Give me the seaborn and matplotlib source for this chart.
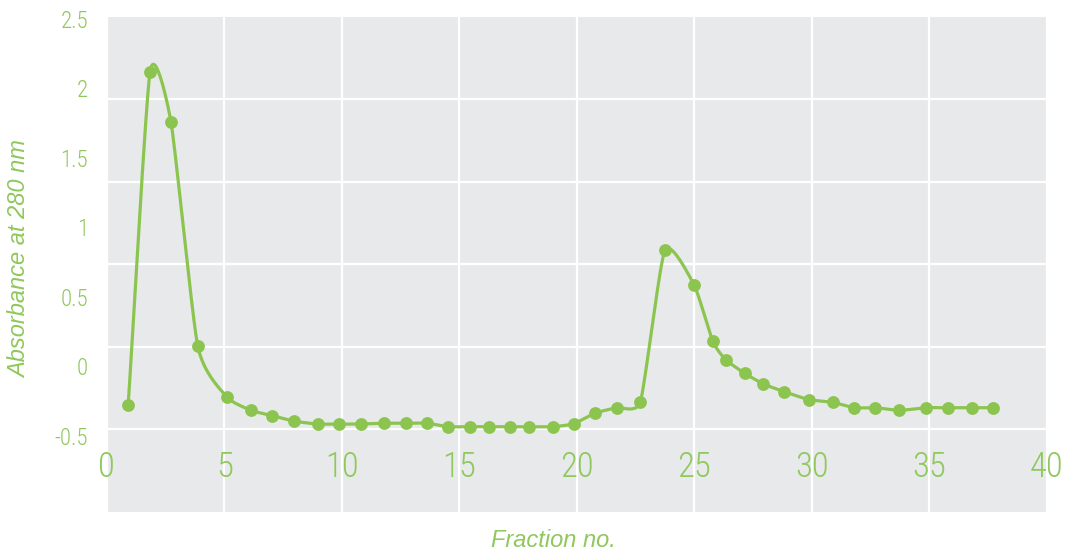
import numpy as np
import matplotlib
matplotlib.use("Agg")
import matplotlib.pyplot as plt
import seaborn as sns

# Elution profile: absorbance of each collected fraction
fraction = [0.91, 1.84, 2.73, 3.87, 5.10, 6.15, 7.04, 7.95, 8.97, 9.88,
            10.80, 11.81, 12.72, 13.63, 14.53, 15.46, 16.25, 17.16, 17.95, 18.97,
            19.87, 20.79, 21.69, 22.70, 23.75, 24.99, 25.78, 26.34, 27.14, 27.94,
            28.83, 29.88, 30.89, 31.81, 32.70, 33.72, 34.86, 35.78, 36.80, 37.70]
absorbance = [0.145, 2.164, 1.861, 0.503, 0.196, 0.113, 0.081, 0.048, 0.030, 0.030,
              0.030, 0.035, 0.035, 0.035, 0.014, 0.014, 0.014, 0.014, 0.014, 0.014,
              0.032, 0.097, 0.129, 0.162, 1.083, 0.873, 0.533, 0.420, 0.338, 0.273,
              0.226, 0.178, 0.162, 0.129, 0.129, 0.113, 0.129, 0.129, 0.129, 0.129]

x_ticks = [0, 5, 10, 15, 20, 25, 30, 35, 40]
y_tick_values = [2.5, 2.0, 1.5, 1.0, 0.5, 0.0, -0.5]
y_tick_labels = ["2.5", "2", "1.5", "1", "0.5", "0", "-0.5"]
y_grid = [0.0, 0.5, 1.0, 1.5, 2.0]

GREEN = "#8CC450"
TEXT_GREEN = "#8FC85C"
PANEL = "#E8E9EB"
NUM_FONT = ["Roboto Condensed", "IBM Plex Sans Condensed", "DejaVu Sans"]
TITLE_FONT = ["Liberation Sans", "DejaVu Sans"]


def smooth_display(ax, x, y, k=0.1, clamp=0.5, n=30):
    """Bezier smoothing through every point, computed in display space."""
    pts = ax.transData.transform(np.column_stack([x, y]))
    ext = np.vstack([2 * pts[0] - pts[1], pts, 2 * pts[-1] - pts[-2]])
    t = np.linspace(0, 1, n)[:, None]
    out = []
    for i in range(1, len(ext) - 2):
        p0, p1, p2, p3 = ext[i - 1], ext[i], ext[i + 1], ext[i + 2]
        seg_len = np.linalg.norm(p2 - p1)
        h1 = (p2 - p0) * k
        h2 = (p3 - p1) * k
        for h in (h1, h2):
            ln = np.linalg.norm(h)
            if ln > clamp * seg_len:
                h *= clamp * seg_len / ln
        c1 = p1 + h1
        c2 = p2 - h2
        seg = ((1 - t) ** 3) * p1 + 3 * ((1 - t) ** 2) * t * c1 \
            + 3 * (1 - t) * t ** 2 * c2 + t ** 3 * p2
        out.append(seg if i == 1 else seg[1:])
    curve = ax.transData.inverted().transform(np.vstack(out))
    return curve[:, 0], curve[:, 1]


sns.set_theme(style="darkgrid")

fig = plt.figure(figsize=(10.67, 5.56), dpi=100)
rect = [106.8 / 1067, 1 - 511.5 / 556, 940 / 1067, 495 / 556]

# Axis holding the left-hand value labels
lab = fig.add_axes(rect, frameon=False)
lab.set_xlim(0, 40)
lab.set_ylim(-1.044, 2.515)
lab.set_xticks([])
lab.set_yticks(y_tick_values)
lab.set_yticklabels(y_tick_labels, family=NUM_FONT, fontweight="light")
lab.grid(False)
lab.patch.set_visible(False)
lab.tick_params(axis="y", length=0, pad=13.5, labelsize=16.5, labelcolor=TEXT_GREEN)

ax = fig.add_axes(rect)
ax.set_facecolor(PANEL)
for s in ax.spines.values():
    s.set_visible(False)
ax.set_xlim(0, 40)
ax.set_ylim(-0.5, 2.5)

sx, sy = smooth_display(ax, fraction, absorbance)
sns.lineplot(x=sx, y=sy, sort=False, estimator=None, color=GREEN, linewidth=2.3, ax=ax)
sns.scatterplot(x=fraction, y=absorbance, color=GREEN, s=85, linewidth=0, ax=ax, zorder=3)

ax.set_xlim(0, 40)
ax.set_ylim(-0.5, 2.5)
ax.set_xticks(x_ticks)
ax.set_xticklabels([str(v) for v in x_ticks], family=NUM_FONT, fontweight="light")
ax.set_yticks(y_grid)
ax.set_yticklabels([])
ax.grid(True, color="white", linewidth=1.6)
ax.tick_params(axis="y", length=0)
ax.tick_params(axis="x", length=0, pad=-44, labelsize=25, labelcolor=TEXT_GREEN)
ax.set_xlabel("")
ax.set_ylabel("")

fig.text(20 / 1067, 1 - 259 / 556, "Absorbance at 280 nm", rotation=90,
         ha="center", va="center", fontsize=17, style="italic",
         color=TEXT_GREEN, family=TITLE_FONT)
fig.text(553 / 1067, 1 - 547 / 556, "Fraction no.", ha="center", va="baseline",
         fontsize=17, style="italic", color=TEXT_GREEN, family=TITLE_FONT)

fig.savefig("out.png", dpi=100, facecolor="white")
